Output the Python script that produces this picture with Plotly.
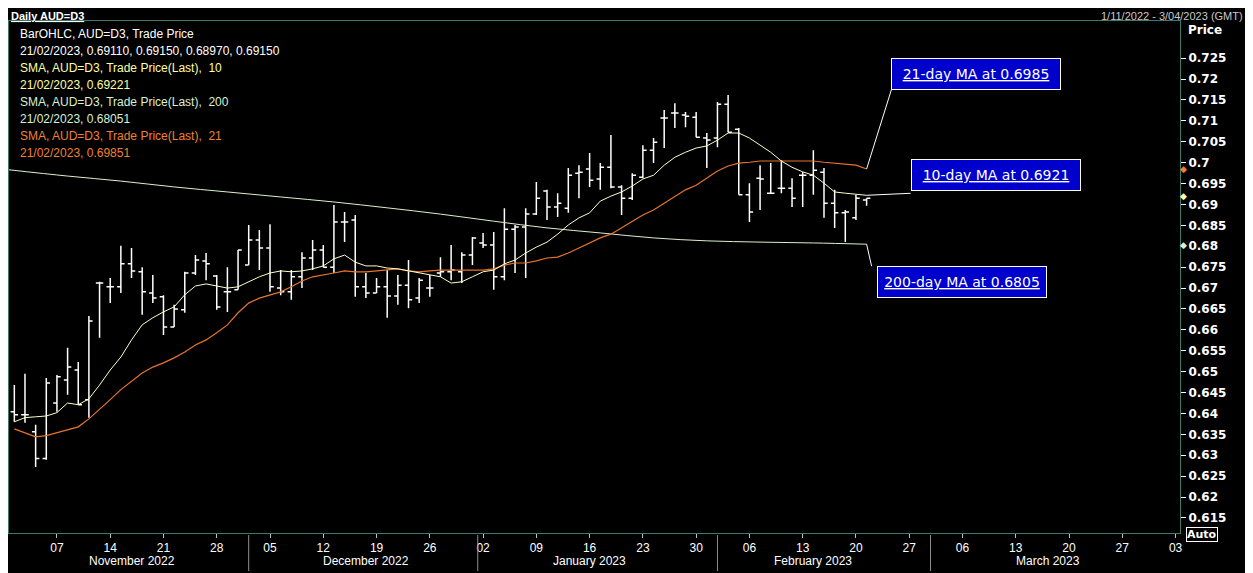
import plotly.graph_objects as go
import pandas as pd

dates = pd.bdate_range("2022-11-01", "2023-02-21")

opens = [.6404,.6397,.6356,.6292,.6425,.6480,.6504,.6433,.6712,.6703,
         .6703,.6758,.6739,.6688,.6679,.6607,.6648,.6736,.6765,.6729,
         .6691,.6696,.6755,.6815,.6796,.6700,.6691,.6727,.6772,.6791,
         .6750,.6858,.6863,.6703,.6688,.6703,.6681,.6707,.6676,.6700,
         .6736,.6739,.6739,.6779,.6808,.6803,.6727,.6841,.6846,.6877,
         .6932,.6894,.6891,.6975,.6985,.6961,.6989,.6942,.6915,.6965,
         .7030,.7107,.7119,.7114,.7109,.7059,.7059,.7140,.7080,.6923,
         .6963,.6927,.6939,.6939,.6970,.6970,.6977,.6903,.6880,.6868,.6911]
highs = [.6468,.6495,.6373,.6485,.6492,.6557,.6523,.6633,.6715,.6724,
         .6801,.6796,.6750,.6731,.6683,.6660,.6739,.6779,.6784,.6731,
         .6750,.6791,.6851,.6839,.6853,.6743,.6743,.6786,.6815,.6803,
         .6899,.6882,.6875,.6736,.6724,.6743,.6731,.6767,.6724,.6731,
         .6774,.6803,.6786,.6822,.6832,.6834,.6891,.6851,.6891,.6954,
         .6935,.6927,.6987,.6994,.7023,.6999,.7066,.6946,.6975,.7042,
         .7059,.7126,.7142,.7121,.7121,.7071,.7145,.7162,.7083,.6951,
         .6994,.6999,.7006,.6963,.6978,.7030,.6987,.6935,.6887,.6923,.6915]
lows = [.6380,.6378,.6272,.6289,.6404,.6445,.6421,.6390,.6581,.6664,
        .6688,.6724,.6636,.6664,.6588,.6607,.6641,.6731,.6719,.6648,
        .6643,.6696,.6755,.6743,.6691,.6683,.6672,.6700,.6743,.6750,
        .6736,.6810,.6679,.6676,.6688,.6629,.6660,.6652,.6664,.6679,
        .6727,.6719,.6712,.6755,.6796,.6696,.6719,.6736,.6724,.6875,
        .6863,.6870,.6880,.6915,.6942,.6935,.6939,.6875,.6911,.6963,
        .6999,.7035,.7083,.7085,.7061,.6987,.7037,.7073,.6923,.6858,
        .6887,.6927,.6927,.6894,.6894,.6923,.6868,.6844,.6810,.6863,.6897]
closes = [.6397,.6397,.6292,.6473,.6488,.6511,.6421,.6621,.6712,.6703,
          .6758,.6741,.6691,.6676,.6607,.6650,.6736,.6767,.6758,.6655,
          .6691,.6791,.6815,.6796,.6703,.6691,.6727,.6772,.6791,.6750,
          .6858,.6858,.6703,.6688,.6703,.6681,.6707,.6672,.6719,.6700,
          .6739,.6743,.6779,.6820,.6803,.6727,.6841,.6846,.6877,.6915,
          .6894,.6903,.6970,.6977,.6958,.6989,.6942,.6915,.6970,.7030,
          .7049,.7107,.7119,.7111,.7061,.7054,.7140,.7073,.6923,.6882,
          .6961,.6927,.6939,.6915,.6970,.6982,.6903,.6880,.6882,.6915,.6915]

sma10 = [.6380,.6390,.6392,.6394,.6402,.6425,.6421,.6435,.6468,.6504,
         .6535,.6576,.6612,.6629,.6643,.6655,.6684,.6705,.6710,.6705,
         .6700,.6703,.6715,.6727,.6736,.6741,.6739,.6741,.6746,.6753,
         .6770,.6779,.6762,.6753,.6753,.6748,.6746,.6741,.6736,.6731,
         .6727,.6712,.6715,.6727,.6739,.6743,.6758,.6767,.6784,.6798,
         .6810,.6829,.6851,.6868,.6880,.6908,.6920,.6930,.6944,.6961,
         .6970,.6994,.7013,.7025,.7035,.7040,.7054,.7071,.7071,.7059,
         .7042,.7025,.7004,.6989,.6978,.6970,.6951,.6930,.6927,.6925,.6922]
sma21 = [.6363,.6354,.6344,.6347,.6354,.6361,.6368,.6387,.6409,.6433,
         .6457,.6476,.6497,.6511,.6521,.6533,.6547,.6564,.6576,.6593,
         .6612,.6641,.6664,.6676,.6683,.6691,.6703,.6717,.6727,.6731,
         .6736,.6741,.6739,.6739,.6741,.6743,.6746,.6741,.6739,.6741,
         .6743,.6743,.6743,.6743,.6743,.6746,.6755,.6760,.6760,.6765,
         .6772,.6774,.6784,.6796,.6808,.6820,.6829,.6844,.6858,.6875,
         .6887,.6903,.6918,.6935,.6946,.6963,.6980,.6992,.6999,.7001,
         .7004,.7004,.7004,.7004,.7004,.7004,.7001,.6999,.6997,.6994,.6985]
sma200_dates = ["2022-10-31 12:00","2022-11-08","2022-11-15","2022-11-22","2022-11-29",
                "2022-12-06","2022-12-13","2022-12-20","2022-12-27","2023-01-03",
                "2023-01-10","2023-01-17","2023-01-24","2023-01-31","2023-02-07",
                "2023-02-14","2023-02-21"]
sma200 = [.6983,.6968,.6956,.6942,.6930,.6918,.6906,.6892,.6877,.6860,
          .6844,.6832,.6820,.6813,.6810,.6808,.6805]

ytick_vals = [0.615,0.62,0.625,0.63,0.635,0.64,0.645,0.65,0.655,0.66,0.665,0.67,
              0.675,0.68,0.685,0.69,0.695,0.7,0.705,0.71,0.715,0.72,0.725]
month_labels = ["November 2022","December 2022","January 2023","February 2023","March 2023"]
month_centers = ["2022-11-16","2022-12-16","2023-01-16","2023-02-14","2023-03-16"]
month_bounds = ["2022-12-01","2023-01-01 12:00","2023-02-01","2023-03-01"]

legend_lines = [
    ("BarOHLC, AUD=D3, Trade Price", "#ffffff"),
    ("21/02/2023, 0.69110, 0.69150, 0.68970, 0.69150", "#ffffff"),
    ("SMA, AUD=D3, Trade Price(Last),  10", "#ffffa0"),
    ("21/02/2023, 0.69221", "#ffffa0"),
    ("SMA, AUD=D3, Trade Price(Last),  200", "#d8f0d0"),
    ("21/02/2023, 0.68051", "#d8f0d0"),
    ("SMA, AUD=D3, Trade Price(Last),  21", "#f08030"),
    ("21/02/2023, 0.69851", "#f08030"),
]

FONT = "Liberation Sans"
fig = go.Figure()
fig.add_trace(go.Scatter(x=sma200_dates, y=sma200, mode="lines",
                         line=dict(color="#dcf0d0", width=1, shape="spline"), hoverinfo="skip"))
fig.add_trace(go.Scatter(x=dates, y=sma21, mode="lines",
                         line=dict(color="#e8742c", width=1.2), hoverinfo="skip"))
fig.add_trace(go.Scatter(x=dates, y=sma10, mode="lines",
                         line=dict(color="#ffffc8", width=1), hoverinfo="skip"))
fig.add_trace(go.Ohlc(x=dates, open=opens, high=highs, low=lows, close=closes,
                      increasing_line_color="white", decreasing_line_color="white",
                      line_width=1.5, tickwidth=0.35))

last = dates[-1]
callouts = [("21-day MA at 0.6985", sma21[-1], 25, 80, 109, 95),
            ("10-day MA at 0.6921", sma10[-1], 44, 2, 129, 20),
            ("200-day MA at 0.6805", sma200[-1], 5, -22, 95, -38)]
for txt, yv, lx, ly, bx, by in callouts:
    fig.add_shape(type="line", xref="x", yref="y", xsizemode="pixel", ysizemode="pixel",
                  xanchor=last, yanchor=yv, x0=0, x1=lx, y0=0, y1=ly,
                  line=dict(color="white", width=1))
    fig.add_annotation(x=last, y=yv, text="<u>%s</u>" % txt, showarrow=False,
                       xshift=bx, yshift=by,
                       bgcolor="#0000cc", bordercolor="white", borderwidth=1,
                       width=166, height=28, font=dict(color="white", size=14, family="DejaVu Sans"))

for i, (t, c) in enumerate(legend_lines):
    fig.add_annotation(xref="paper", yref="paper", x=0.008, y=1 - (13 + i * 17) / 512,
                       text=t, showarrow=False, xanchor="left", yanchor="middle",
                       font=dict(color=c, size=12, family=FONT))

for lab, cx in zip(month_labels, month_centers):
    fig.add_annotation(x=cx, xref="x", yref="paper", y=-(28 / 512), text=lab, showarrow=False,
                       yanchor="middle", font=dict(color="white", size=12, family=FONT))
for b in month_bounds:
    fig.add_shape(type="line", x0=b, x1=b, xref="x", yref="paper", y0=-2 / 512, y1=-38 / 512,
                  line=dict(color="#909090", width=1))

for yv, col in [(sma21[-1], "#f08030"), (sma10[-1], "#ffffa0"), (sma200[-1], "#d8f0d0")]:
    fig.add_annotation(xref="paper", x=1.003, y=yv, text="◆", showarrow=False,
                       font=dict(color=col, size=9), xanchor="center")

fig.add_annotation(xref="paper", yref="paper", x=1.005, y=1.0, text="<b>Price</b>",
                   showarrow=False, xanchor="left", yanchor="top",
                   font=dict(color="white", size=12, family="DejaVu Sans"))
fig.add_annotation(xref="paper", yref="paper", x=1.005, y=0.0, yshift=-9, text="<b>Auto</b>",
                   showarrow=False, xanchor="left", yanchor="bottom", bordercolor="white",
                   borderwidth=1, borderpad=0, font=dict(color="white", size=11, family="DejaVu Sans"))
fig.add_annotation(xref="paper", yref="paper", x=0.0, y=1.0, yshift=13, text="<b><u>Daily AUD=D3</u></b>",
                   showarrow=False, xanchor="left", yanchor="top",
                   font=dict(color="white", size=11, family=FONT))
fig.add_annotation(xref="paper", yref="paper", x=1.0555, y=1.0, yshift=13, text="1/11/2022 - 3/04/2023 (GMT)",
                   showarrow=False, xanchor="right", yanchor="top",
                   font=dict(color="#c8c8c8", size=11, family=FONT))

fig.update_layout(
    width=1245, height=565, paper_bgcolor="black", plot_bgcolor="black",
    margin=dict(l=1, r=73, t=13, b=40), showlegend=False,
    xaxis=dict(range=["2022-10-31 12:00", "2023-04-03 10:00"], type="date",
               rangebreaks=[dict(bounds=["sat", "mon"])], rangeslider=dict(visible=False),
               tickvals=pd.date_range("2022-11-07", "2023-04-03", freq="7D"),
               tickformat="%d", ticks="outside", ticklen=4, tickcolor="#c0c0c0",
               tickfont=dict(color="white", size=12, family=FONT),
               showgrid=False, zeroline=False, showline=True, linecolor="#3c7c70", mirror=True),
    yaxis=dict(side="right", range=[0.6114, 0.7339], tickvals=ytick_vals,
               ticktext=["<b>%g</b>" % v for v in ytick_vals],
               ticks="outside", ticklen=5, tickcolor="white",
               tickfont=dict(color="white", size=12, family="DejaVu Sans"),
               showgrid=False, zeroline=False, showline=True, linecolor="#3c7c70", mirror=True),
)
fig.write_html("out.html")
